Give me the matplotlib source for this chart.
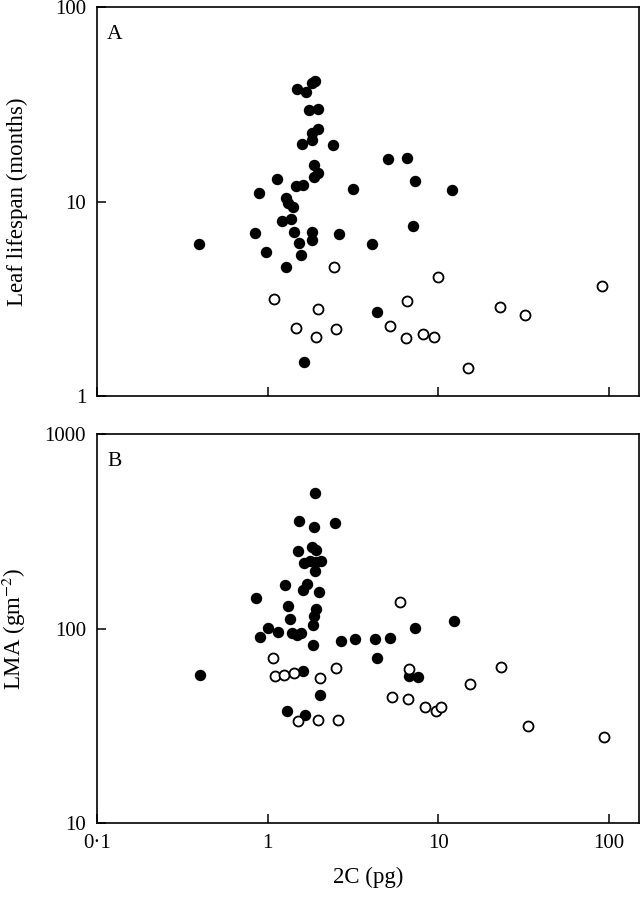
import numpy as np
import matplotlib
matplotlib.use('Agg')
import matplotlib.pyplot as plt

plt.rcParams['font.family'] = ['Liberation Serif', 'DejaVu Serif']
plt.rcParams['mathtext.fontset'] = 'stix'

# panel A: leaf lifespan (months) vs 2C (pg)
a_fill_x = [1.82, 1.89, 1.48, 1.67, 1.74, 1.97, 1.97, 1.82, 1.82, 1.59, 2.41, 1.87, 1.97, 1.87,
            1.13, 1.46, 1.61, 3.16, 0.885, 1.28, 1.31, 1.40, 1.22, 1.37, 0.84, 1.42, 1.82, 1.82,
            2.62, 0.393, 1.52, 4.09, 0.973, 1.56, 1.28, 4.38, 1.63, 5.08, 6.57, 7.32, 12.1, 7.13]
a_fill_y = [40.7, 41.6, 37.9, 36.6, 29.5, 29.9, 23.6, 22.5, 20.7, 19.7, 19.5, 15.4, 14.0, 13.4,
            13.05, 12.0, 12.2, 11.6, 11.06, 10.4, 9.82, 9.37, 7.94, 8.13, 6.89, 6.97, 6.97, 6.34,
            6.81, 6.05, 6.12, 6.05, 5.50, 5.31, 4.61, 2.70, 1.50, 16.5, 16.7, 12.75, 11.46, 7.48]
a_open_x = [2.44, 1.085, 1.97, 1.46, 2.51, 1.92, 10.0, 90.9, 6.57, 22.9, 32.5, 5.22, 6.48,
            8.16, 9.47, 15.0]
a_open_y = [4.61, 3.15, 2.80, 2.24, 2.21, 2.01, 4.09, 3.68, 3.08, 2.87, 2.61, 2.29, 1.99,
            2.08, 2.01, 1.39]

# panel B: LMA (g m-2) vs 2C (pg)
b_fill_x = [1.89, 1.53, 1.865, 2.48, 1.51, 1.83, 1.93, 1.63, 1.78, 1.93, 2.05, 1.89, 1.26, 1.69,
            1.61, 2.00, 0.853, 1.32, 1.92, 1.865, 1.35, 1.85, 1.004, 1.156, 0.906, 1.39, 1.475,
            1.56, 1.85, 2.68, 3.26, 4.26, 4.40, 0.402, 1.61, 2.02, 1.30, 1.66, 12.4, 7.29, 5.20,
            6.75, 7.56]
b_fill_y = [499, 358, 332, 347, 251, 263, 253, 218, 222, 220, 222, 198, 167, 169,
            158, 154, 143.5, 131, 125.5, 116, 112, 104, 101, 96.3, 90.4, 94.5, 92.3,
            95.2, 82.6, 86.3, 88.0, 88.3, 70.5, 57.5, 60.5, 45.5, 37.8, 35.8, 109.7, 101, 89.1,
            57.2, 56.1]
b_open_x = [1.08, 1.11, 1.24, 1.42, 2.02, 2.51, 1.50, 1.97, 2.58, 5.98, 6.72, 23.5, 15.4,
            5.38, 6.63, 8.39, 9.64, 10.4, 33.4, 93.4]
b_open_y = [70.3, 57.0, 57.5, 58.9, 55.8, 62.9, 33.3, 33.7, 33.7, 137, 61.7, 63.2, 51.7,
            44.6, 43.2, 39.5, 37.6, 39.6, 31.6, 27.8]

xticks = [0.1, 1, 10, 100]
xtick_labels = ['0·1', '1', '10', '100']

fig = plt.figure(figsize=(6.4, 8.99), dpi=100)
axA = fig.add_axes([0.152, 0.5595, 0.846, 0.4327])
axB = fig.add_axes([0.152, 0.0845, 0.846, 0.4327])

def style(ax):
    ax.set_xscale('log')
    ax.set_yscale('log')
    ax.set_xlim(0.1, 150)
    ax.minorticks_off()
    ax.tick_params(which='both', direction='in', length=6.5, width=1.1, labelsize=15,
                   top=False, right=False, pad=8)
    for s in ax.spines.values():
        s.set_linewidth(1.2)

ms = 7.2
axA.plot(a_fill_x, a_fill_y, 'o', ms=ms, mfc='black', mec='black', mew=1)
axA.plot(a_open_x, a_open_y, 'o', ms=ms, mfc='white', mec='black', mew=1.3)
style(axA)
axA.set_ylim(1, 100)
axA.set_yticks([1, 10, 100], ['1', '10', '100'])
axA.set_xticks(xticks, ['', '', '', ''])
axA.minorticks_off()
axA.set_ylabel('Leaf lifespan (months)', fontsize=16.5)
axA.yaxis.set_label_coords(-0.128, 0.5)
axA.text(0.018, 0.955, 'A', transform=axA.transAxes, fontsize=15.5, va='top', ha='left')

axB.plot(b_fill_x, b_fill_y, 'o', ms=ms, mfc='black', mec='black', mew=1)
axB.plot(b_open_x, b_open_y, 'o', ms=ms, mfc='white', mec='black', mew=1.3)
style(axB)
axB.set_ylim(10, 1000)
axB.set_yticks([10, 100, 1000], ['10', '100', '1000'])
axB.set_xticks(xticks, xtick_labels)
axB.minorticks_off()
axB.set_ylabel('LMA (gm$^{-2}$)', fontsize=16.5)
axB.yaxis.set_label_coords(-0.128, 0.5)
axB.set_xlabel('2C (pg)', fontsize=16.5, labelpad=10)
axB.text(0.018, 0.955, 'B', transform=axB.transAxes, fontsize=15.5, va='top', ha='left')

fig.savefig('out.png', dpi=100)
